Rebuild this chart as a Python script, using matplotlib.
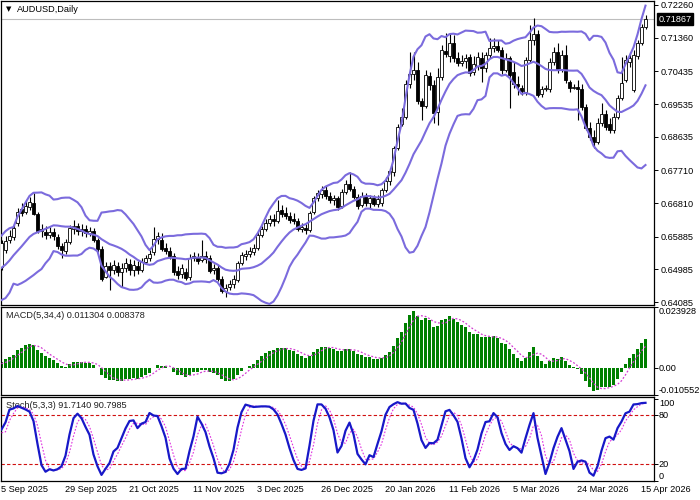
import numpy as np
import pandas as pd
import matplotlib
matplotlib.use("Agg")
import matplotlib.pyplot as plt
from matplotlib.transforms import blended_transform_factory as btf

plt.rcParams['font.family'] = ['Liberation Sans', 'DejaVu Sans']

title_text = "AUDUSD,Daily"
macd_text = "MACD(5,34,4) 0.011304 0.008378"
stoch_text = "Stoch(5,3,3) 91.7140 90.7985"
bid_price = 0.71867

# visible daily bars (5 Sep 2025 .. 16 Apr 2026)
open_ = [
    0.6506, 0.6552, 0.6580, 0.6588, 0.6627, 0.6665, 0.6657, 0.6671, 0.6682, 0.6651,
    0.6605, 0.6602, 0.6594, 0.6602, 0.6588, 0.6563, 0.6550, 0.6574, 0.6610, 0.6618,
    0.6605, 0.6610, 0.6599, 0.6605, 0.6580, 0.6555, 0.6478, 0.6508, 0.6497, 0.6508,
    0.6492, 0.6503, 0.6514, 0.6497, 0.6508, 0.6497, 0.6519, 0.6530, 0.6547, 0.6583,
    0.6580, 0.6558, 0.6550, 0.6536, 0.6495, 0.6486, 0.6492, 0.6478, 0.6530, 0.6533,
    0.6525, 0.6536, 0.6530, 0.6497, 0.6503, 0.6473, 0.6440, 0.6451, 0.6459, 0.6470,
    0.6517, 0.6536, 0.6541, 0.6547, 0.6558, 0.6594, 0.6610, 0.6627, 0.6638, 0.6632,
    0.6662, 0.6654, 0.6646, 0.6638, 0.6632, 0.6610, 0.6613, 0.6607, 0.6657, 0.6695,
    0.6706, 0.6717, 0.6701, 0.6690, 0.6695, 0.6673, 0.6712, 0.6734, 0.6720, 0.6698,
    0.6676, 0.6701, 0.6682, 0.6695, 0.6679, 0.6682, 0.6717, 0.6742, 0.6767, 0.6833,
    0.6899, 0.6918, 0.7009, 0.7036, 0.7047, 0.6962, 0.6948, 0.7031, 0.7006, 0.6932,
    0.7028, 0.7099, 0.7086, 0.7122, 0.7080, 0.7066, 0.7072, 0.7083, 0.7042, 0.7058,
    0.7080, 0.7053, 0.7089, 0.7108, 0.7113, 0.7102, 0.7047, 0.7080, 0.7042, 0.7009,
    0.6998, 0.6987, 0.7075, 0.7130, 0.7146, 0.6981, 0.6995, 0.6995, 0.7069, 0.7097,
    0.7047, 0.7089, 0.7014, 0.6998, 0.7001, 0.6995, 0.6946, 0.6888, 0.6863, 0.6849,
    0.6902, 0.6926, 0.6899, 0.6882, 0.6918, 0.6970, 0.7020, 0.7069, 0.6992, 0.7086,
    0.7122, 0.7166]
high = [
    0.6580, 0.6591, 0.6607, 0.6622, 0.6668, 0.6682, 0.6690, 0.6698, 0.6709, 0.6657,
    0.6624, 0.6618, 0.6616, 0.6613, 0.6596, 0.6572, 0.6583, 0.6621, 0.6635, 0.6627,
    0.6624, 0.6621, 0.6616, 0.6613, 0.6585, 0.6563, 0.6519, 0.6519, 0.6525, 0.6519,
    0.6517, 0.6530, 0.6528, 0.6525, 0.6522, 0.6530, 0.6539, 0.6552, 0.6616, 0.6602,
    0.6599, 0.6572, 0.6561, 0.6544, 0.6508, 0.6514, 0.6503, 0.6541, 0.6547, 0.6544,
    0.6580, 0.6550, 0.6539, 0.6514, 0.6511, 0.6481, 0.6459, 0.6470, 0.6484, 0.6522,
    0.6547, 0.6552, 0.6561, 0.6569, 0.6602, 0.6618, 0.6638, 0.6649, 0.6651, 0.6690,
    0.6676, 0.6671, 0.6657, 0.6654, 0.6640, 0.6627, 0.6624, 0.6660, 0.6701, 0.6717,
    0.6728, 0.6728, 0.6712, 0.6704, 0.6701, 0.6720, 0.6745, 0.6767, 0.6728, 0.6706,
    0.6712, 0.6709, 0.6704, 0.6704, 0.6704, 0.6723, 0.6753, 0.6778, 0.6838, 0.6899,
    0.6943, 0.7020, 0.7097, 0.7097, 0.7069, 0.6970, 0.7047, 0.7042, 0.7020, 0.7053,
    0.7116, 0.7149, 0.7149, 0.7144, 0.7097, 0.7088, 0.7091, 0.7091, 0.7086, 0.7097,
    0.7097, 0.7097, 0.7135, 0.7135, 0.7130, 0.7111, 0.7094, 0.7086, 0.7069, 0.7031,
    0.7006, 0.7083, 0.7171, 0.7190, 0.7157, 0.7003, 0.7006, 0.7080, 0.7111, 0.7122,
    0.7102, 0.7116, 0.7020, 0.7009, 0.7020, 0.7009, 0.6954, 0.6904, 0.6882, 0.6915,
    0.6957, 0.6937, 0.6915, 0.6929, 0.6979, 0.7083, 0.7089, 0.7097, 0.7102, 0.7130,
    0.7174, 0.7199]
low = [
    0.6497, 0.6544, 0.6572, 0.6580, 0.6618, 0.6646, 0.6651, 0.6662, 0.6649, 0.6599,
    0.6588, 0.6583, 0.6585, 0.6580, 0.6555, 0.6530, 0.6541, 0.6569, 0.6596, 0.6594,
    0.6591, 0.6588, 0.6591, 0.6574, 0.6547, 0.6467, 0.6475, 0.6442, 0.6486, 0.6481,
    0.6451, 0.6492, 0.6484, 0.6481, 0.6486, 0.6492, 0.6514, 0.6522, 0.6539, 0.6569,
    0.6550, 0.6541, 0.6528, 0.6484, 0.6473, 0.6475, 0.6470, 0.6470, 0.6522, 0.6514,
    0.6519, 0.6517, 0.6489, 0.6486, 0.6467, 0.6434, 0.6423, 0.6442, 0.6448, 0.6464,
    0.6511, 0.6525, 0.6533, 0.6539, 0.6552, 0.6588, 0.6605, 0.6618, 0.6618, 0.6627,
    0.6643, 0.6638, 0.6627, 0.6624, 0.6605, 0.6602, 0.6596, 0.6602, 0.6651, 0.6687,
    0.6695, 0.6693, 0.6682, 0.6676, 0.6662, 0.6668, 0.6706, 0.6715, 0.6693, 0.6665,
    0.6671, 0.6673, 0.6668, 0.6673, 0.6671, 0.6673, 0.6712, 0.6731, 0.6756, 0.6827,
    0.6893, 0.6912, 0.6998, 0.7020, 0.6954, 0.6910, 0.6943, 0.6992, 0.6902, 0.6896,
    0.7020, 0.7083, 0.7069, 0.7069, 0.7058, 0.7058, 0.7053, 0.7031, 0.7034, 0.7047,
    0.7014, 0.7042, 0.7080, 0.7097, 0.7097, 0.7036, 0.7042, 0.6943, 0.6998, 0.6979,
    0.6979, 0.6979, 0.7069, 0.7116, 0.6973, 0.6973, 0.6990, 0.6987, 0.7061, 0.7039,
    0.7042, 0.7012, 0.6987, 0.6995, 0.6910, 0.6937, 0.6882, 0.6855, 0.6833, 0.6844,
    0.6893, 0.6882, 0.6874, 0.6874, 0.6912, 0.6965, 0.7014, 0.7056, 0.6987, 0.7078,
    0.7116, 0.7160]
close = [
    0.6572, 0.6577, 0.6591, 0.6613, 0.6657, 0.6654, 0.6673, 0.6684, 0.6651, 0.6605,
    0.6610, 0.6594, 0.6602, 0.6591, 0.6563, 0.6552, 0.6574, 0.6613, 0.6618, 0.6605,
    0.6610, 0.6599, 0.6605, 0.6580, 0.6555, 0.6473, 0.6508, 0.6497, 0.6511, 0.6492,
    0.6503, 0.6517, 0.6497, 0.6511, 0.6497, 0.6519, 0.6530, 0.6541, 0.6583, 0.6591,
    0.6555, 0.6550, 0.6536, 0.6492, 0.6484, 0.6503, 0.6475, 0.6530, 0.6536, 0.6522,
    0.6536, 0.6528, 0.6495, 0.6503, 0.6473, 0.6440, 0.6448, 0.6459, 0.6473, 0.6517,
    0.6539, 0.6541, 0.6550, 0.6558, 0.6594, 0.6610, 0.6627, 0.6638, 0.6632, 0.6660,
    0.6651, 0.6646, 0.6635, 0.6632, 0.6610, 0.6616, 0.6607, 0.6654, 0.6695, 0.6709,
    0.6717, 0.6701, 0.6690, 0.6695, 0.6671, 0.6712, 0.6734, 0.6720, 0.6698, 0.6673,
    0.6701, 0.6682, 0.6695, 0.6679, 0.6693, 0.6717, 0.6742, 0.6770, 0.6833, 0.6891,
    0.6918, 0.7009, 0.7036, 0.7047, 0.6962, 0.6948, 0.7034, 0.7006, 0.6929, 0.7028,
    0.7102, 0.7091, 0.7122, 0.7080, 0.7066, 0.7072, 0.7080, 0.7039, 0.7064, 0.7083,
    0.7053, 0.7089, 0.7108, 0.7113, 0.7102, 0.7047, 0.7080, 0.7034, 0.7009, 0.7003,
    0.6990, 0.7075, 0.7130, 0.7146, 0.6979, 0.6995, 0.6998, 0.7069, 0.7097, 0.7047,
    0.7089, 0.7020, 0.6998, 0.7001, 0.6995, 0.6946, 0.6888, 0.6863, 0.6849, 0.6902,
    0.6926, 0.6891, 0.6882, 0.6918, 0.6970, 0.7012, 0.7075, 0.7080, 0.7089, 0.7122,
    0.7166, 0.71867]

# earlier bars (not drawn, estimated) so the indicators start as shown
prior_close = [
    0.6560, 0.6525, 0.6500, 0.6475, 0.6520, 0.6535, 0.6550, 0.6590, 0.6605, 0.6565,
    0.6525, 0.6515, 0.6455, 0.6430, 0.6475, 0.6465, 0.6460, 0.6505, 0.6520, 0.6520,
    0.6505, 0.6535, 0.6555, 0.6500, 0.6520, 0.6490, 0.6455, 0.6430, 0.6415, 0.6485,
    0.6485, 0.6490, 0.6500, 0.6535, 0.6540, 0.6550, 0.6520, 0.6540, 0.6520]
prior_high = [0.6490, 0.6505, 0.6500, 0.6515, 0.6545, 0.6560, 0.6565, 0.6560, 0.6545, 0.6545]
prior_low = [0.6415, 0.6465, 0.6460, 0.6480, 0.6495, 0.6520, 0.6530, 0.6515, 0.6510, 0.6510]

price_ticks = [0.72260, 0.71360, 0.70435, 0.69535, 0.68635, 0.67710, 0.66810, 0.65885, 0.64985, 0.64085]
macd_ticks = [0.023928, 0.0, -0.010552]
macd_tick_labels = ["0.023928", "0.00", "-0.010552"]
stoch_ticks = [100, 80, 20, 0]
stoch_levels = [80, 20]
date_labels = ["5 Sep 2025", "29 Sep 2025", "21 Oct 2025", "11 Nov 2025", "3 Dec 2025",
               "26 Dec 2025", "20 Jan 2026", "11 Feb 2026", "5 Mar 2026", "24 Mar 2026",
               "15 Apr 2026"]
date_label_bars = [0, 16, 32, 48, 64, 80, 96, 112, 128, 144, 160]

bb_period, bb_dev = 14, 2
macd_fast, macd_slow, macd_signal = 5, 34, 4
st_k, st_d, st_slowing = 5, 3, 3

# ---- indicators -------------------------------------------------------
n = len(close)
npri = len(prior_close)
c_all = pd.Series(prior_close + close, dtype=float)
h_all = pd.Series([np.nan] * (npri - len(prior_high)) + prior_high + high, dtype=float)
l_all = pd.Series([np.nan] * (npri - len(prior_low)) + prior_low + low, dtype=float)

mid = c_all.rolling(bb_period).mean()
sd = c_all.rolling(bb_period).std(ddof=0)
bb_up = (mid + bb_dev * sd).values[npri:]
bb_lo = (mid - bb_dev * sd).values[npri:]
bb_mid = mid.values[npri:]

macd_all = (c_all.ewm(span=macd_fast, adjust=False).mean()
            - c_all.ewm(span=macd_slow, adjust=False).mean())
sig_all = macd_all.rolling(macd_signal).mean()
macd = macd_all.values[npri:]
macd_sig = sig_all.values[npri:]

hh = h_all.rolling(st_k).max()
ll = l_all.rolling(st_k).min()
k_all = 100 * (c_all - ll).rolling(st_slowing).sum() / (hh - ll).rolling(st_slowing).sum()
d_all = k_all.rolling(st_d).mean()
stk = k_all.values[npri:]
std_ = d_all.values[npri:]

# ---- figure -----------------------------------------------------------
W, H = 700, 500
fig = plt.figure(figsize=(7, 5), dpi=100)
fig.patch.set_facecolor('white')


def px_axes(x0, y0, x1, y1):
    return fig.add_axes([x0 / W, 1 - y1 / H, (x1 - x0) / W, (y1 - y0) / H])


ax1 = px_axes(1, 1, 654, 305)
ax2 = px_axes(1, 307, 654, 395)
ax3 = px_axes(1, 397, 654, 481)

x = np.arange(n)
xl = (-0.125, (654 - 1.5) / 4)
FS = 6.6
bb_color = '#7B6BDD'

for ax in (ax1, ax2, ax3):
    ax.set_xlim(*xl)
    ax.set_xticks([])
    ax.set_facecolor('white')
    for s in ax.spines.values():
        s.set_color('black')
        s.set_linewidth(0.9)
    ax.yaxis.tick_right()
    ax.tick_params(axis='y', direction='out', length=3, width=0.7, pad=2,
                   labelsize=FS, colors='black')

# main panel
o = np.array(open_); c = np.array(close); h = np.array(high); lo_ = np.array(low)
ax1.set_ylim(0.64003, 0.72370)
ax1.axhline(bid_price, color='#BDBDBD', lw=0.8, zorder=1)
ax1.vlines(x, lo_, h, color='black', lw=0.8, zorder=2)
body_bottom = np.minimum(o, c)
body_h = np.abs(c - o)
colors = ['white' if cc >= oo else 'black' for oo, cc in zip(o, c)]
ax1.bar(x, body_h, bottom=body_bottom, width=0.62, color=colors,
        edgecolor='black', linewidth=0.6, zorder=3)
ax1.plot(x, bb_up, color=bb_color, lw=1.5, zorder=4)
ax1.plot(x, bb_mid, color=bb_color, lw=1.5, zorder=4)
ax1.plot(x, bb_lo, color=bb_color, lw=1.5, zorder=4)
ax1.set_yticks(price_ticks, labels=[f"{v:.5f}" for v in price_ticks])
ax1.text(1.0065, bid_price, f"{bid_price:.5f}", transform=btf(ax1.transAxes, ax1.transData),
         ha='left', va='center', color='white', fontsize=FS, clip_on=False,
         bbox=dict(boxstyle='square,pad=0.18', fc='black', ec='black'))
ax1.text(16 / 653, 1 - 8 / 304, title_text, transform=ax1.transAxes,
         ha='left', va='center', fontsize=FS, color='black', zorder=6)
ax1.text(5 / 653, 1 - 8 / 304, "\u25BC", transform=ax1.transAxes, family=['DejaVu Sans'],
         ha='left', va='center', fontsize=5, color='black', zorder=6)

# MACD panel
ax2.set_ylim(macd_ticks[2], macd_ticks[0])
ax2.bar(x, macd, width=0.75, color='#008000', zorder=2)
ax2.plot(x, macd_sig, color='#D23CD2', lw=0.9, ls=(0, (1.5, 1.5)), zorder=3)
ax2.set_yticks(macd_ticks, labels=['', '', ''])
tr2 = btf(ax2.transAxes, ax2.transData)
for v, s, va in zip(macd_ticks, macd_tick_labels, ['top', 'center', 'bottom']):
    ax2.text(1.0075, v, s, transform=tr2, ha='left', va=va, fontsize=FS, clip_on=False)
ax2.text(5 / 653, 1 - 8 / 88, macd_text, transform=ax2.transAxes, ha='left',
         va='center', fontsize=FS, color='#202020', zorder=1)

# Stochastic panel
ax3.set_ylim(-0.4, 102.1)
for lv in stoch_levels:
    ax3.axhline(lv, color='#D01010', lw=0.8, ls=(0, (3, 2)), zorder=1)
ax3.text(5 / 653, 1 - 8 / 84, stoch_text, transform=ax3.transAxes, ha='left',
         va='center', fontsize=FS, color='#202020', zorder=1)
ax3.plot(x, std_, color='#E030E0', lw=0.8, ls=(0, (1.5, 1.5)), zorder=3)
ax3.plot(x, stk, color='#1818C8', lw=1.6, zorder=4)
ax3.set_yticks(stoch_ticks, labels=['', '', '', ''])
tr3 = btf(ax3.transAxes, ax3.transData)
for v, va in zip(stoch_ticks, ['top', 'center', 'center', 'bottom']):
    ax3.text(1.0075, v, str(v), transform=tr3, ha='left', va=va, fontsize=FS, clip_on=False)

# date labels
trd = btf(ax3.transData, fig.transFigure)
for b, s in zip(date_label_bars, date_labels):
    fig.text(b - 0.15, 1 - 490 / H, s, transform=trd, ha='left', va='center',
             fontsize=FS, color='black')

fig.savefig('out.png', dpi=100, facecolor='white')
